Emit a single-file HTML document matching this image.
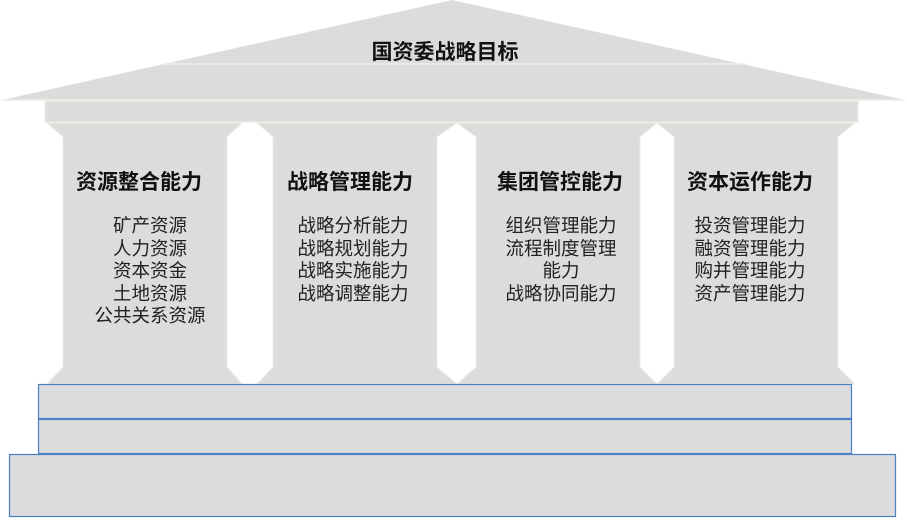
<!DOCTYPE html>
<html><head><meta charset="utf-8"><style>
body{margin:0;width:907px;height:520px;background:#fff;overflow:hidden;position:relative;font-family:"Liberation Sans","Noto Sans CJK SC",sans-serif}
.t{position:absolute;text-align:center;color:#111;white-space:nowrap}
.h{font-weight:bold;font-size:21px;line-height:24px}
.i{font-size:18.5px;line-height:22.5px;color:#222}
</style></head><body>
<svg width="907" height="520" style="position:absolute;left:0;top:0">
<polygon points="2,100 452,0 905,100" fill="#dcdcdc"/>
<line x1="163" y1="64" x2="745" y2="64" stroke="#eeeee4" stroke-width="1.5"/>
<line x1="2" y1="100" x2="905" y2="100" stroke="#eeeee4" stroke-width="1.5"/>
<rect x="45" y="101" width="813" height="21" fill="#dcdcdc" stroke="#eeeee4" stroke-width="1"/>
<g fill="#dcdcdc" stroke="#eeeee4" stroke-width="1">
<polygon points="47,123 242,123 227,137 227,367 242,384 47,384 63,367 63,137"/>
<polygon points="257,123 457,123 437,137 437,367 457,384 257,384 273,367 273,137"/>
<polygon points="457,123 657,123 640,137 640,367 657,384 457,384 476,367 476,137"/>
<polygon points="657,123 855,123 838,137 838,367 855,384 657,384 674,367 674,137"/>
</g>
<rect x="38.5" y="384.5" width="813" height="34" fill="#dcdcdc" stroke="#4a7fc4" stroke-width="1.2"/>
<rect x="38.5" y="419.5" width="813" height="34" fill="#dcdcdc" stroke="#4a7fc4" stroke-width="1.2"/>
<rect x="9.5" y="454.5" width="886" height="62" fill="#dcdcdc" stroke="#4a7fc4" stroke-width="1.2"/>
</svg>
<div class="t h" style="left:345px;width:200px;top:41px">国资委战略目标</div>
<div class="t h" style="left:39px;width:200px;top:171px">资源整合能力</div>
<div class="t h" style="left:250px;width:200px;top:171px">战略管理能力</div>
<div class="t h" style="left:460px;width:200px;top:171px">集团管控能力</div>
<div class="t h" style="left:650px;width:200px;top:171px">资本运作能力</div>
<div class="t i" style="left:50px;width:200px;top:215px">矿产资源<br>人力资源<br>资本资金<br>土地资源<br>公共关系资源</div>
<div class="t i" style="left:253px;width:200px;top:215px">战略分析能力<br>战略规划能力<br>战略实施能力<br>战略调整能力</div>
<div class="t i" style="left:461px;width:200px;top:215px">组织管理能力<br>流程制度管理<br>能力<br>战略协同能力</div>
<div class="t i" style="left:650px;width:200px;top:215px">投资管理能力<br>融资管理能力<br>购并管理能力<br>资产管理能力</div>
</body></html>
